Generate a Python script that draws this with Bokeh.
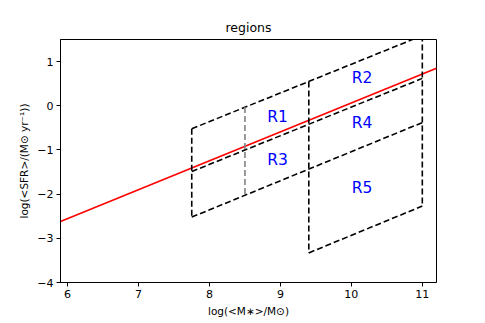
from bokeh.plotting import figure
from bokeh.models import FixedTicker, Range1d
from bokeh.embed import file_html
from bokeh.resources import INLINE

# ---- data ----
# main-sequence (red) line endpoints
ms_x = [5.9, 11.2]
ms_y = [-2.62, 0.85]

# black dashed region boundaries (segments)
seg_x0 = [7.75, 7.75, 7.75, 7.75, 9.4, 9.4, 11.0]
seg_y0 = [-0.52, -0.52, -1.49, -2.52, 0.55, -3.33, 1.59]
seg_x1 = [7.75, 11.0, 11.0, 11.0, 9.4, 11.0, 11.0]
seg_y1 = [-2.52, 1.59, 0.62, -0.38, -3.33, -2.27, -2.27]

# grey dashed divider
grey_x0 = [8.5]
grey_y0 = [-0.03]
grey_x1 = [8.5]
grey_y1 = [-2.03]

# region labels
lab_text = ["R1", "R2", "R3", "R4", "R5"]
lab_x = [8.96, 10.15, 8.96, 10.15, 10.15]
lab_y = [-0.25, 0.63, -1.22, -0.38, -1.87]

x_ticks = [6, 7, 8, 9, 10, 11]
y_ticks = [-4, -3, -2, -1, 0, 1]

FONT = "DejaVu Sans"

p = figure(width=480, height=320, output_backend="svg", toolbar_location=None,
           x_range=Range1d(5.9, 11.2), y_range=Range1d(-4, 1.5),
           min_border_left=60, min_border_right=44, min_border_top=39,
           min_border_bottom=38, title="regions")
p.title.align = "center"
p.title.text_font = FONT
p.title.text_font_style = "normal"
p.title.text_font_size = "12.5px"
p.title.text_color = "black"

p.xgrid.visible = False
p.ygrid.visible = False
p.outline_line_color = "black"
p.outline_line_width = 1
p.background_fill_color = "white"
p.border_fill_color = "white"

def minus(v):
    return str(v).replace("-", "\u2212")

for ax, ticks in ((p.xaxis[0], x_ticks), (p.yaxis[0], y_ticks)):
    ax.ticker = FixedTicker(ticks=ticks)
    ax.major_label_overrides = {t: minus(t) for t in ticks}
    ax.minor_tick_line_color = None
    ax.major_tick_in = 0
    ax.major_tick_out = 4
    ax.major_tick_line_color = "black"
    ax.axis_line_color = "black"
    ax.major_label_text_font = FONT
    ax.major_label_text_font_size = "11px"
    ax.major_label_text_color = "black"
    ax.axis_label_text_font = FONT
    ax.axis_label_text_font_size = "10.5px"
    ax.axis_label_text_font_style = "normal"
    ax.axis_label_text_color = "black"
    ax.major_label_standoff = 3
    ax.axis_label_standoff = 4

p.xaxis.axis_label = "log(<M\u2217>/M\u2299)"
p.yaxis.axis_label = "log(<SFR>/(M\u2299 yr\u207b\u00b9))"

p.line(ms_x, ms_y, line_color="red", line_width=1.6)
p.segment(x0=seg_x0, y0=seg_y0, x1=seg_x1, y1=seg_y1, line_color="black",
          line_width=1.6, line_dash="6 3")
p.segment(x0=grey_x0, y0=grey_y0, x1=grey_x1, y1=grey_y1, line_color="gray",
          line_width=1.6, line_dash="6 3")
p.text(x=lab_x, y=lab_y, text=lab_text, text_color="blue",
       text_font={"value": FONT}, text_font_size="15.5px",
       text_align="center", text_baseline="middle")

open("out.html", "w").write(file_html(p, INLINE))
